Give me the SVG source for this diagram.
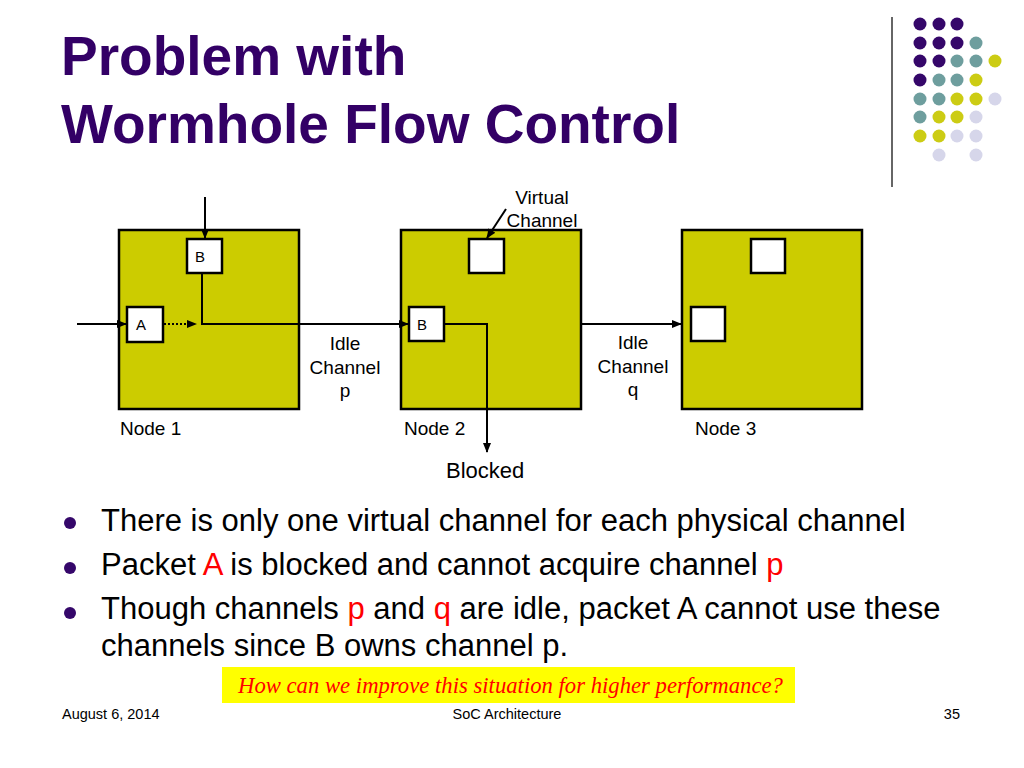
<svg xmlns="http://www.w3.org/2000/svg" width="1024" height="768" viewBox="0 0 1024 768">
<defs>
<style>
.t{font-family:"Liberation Sans",Arial,sans-serif;fill:#000}
.title{font-family:"Liberation Sans",Arial,sans-serif;font-weight:bold;font-size:55px;fill:#330066}
.lbl{font-size:19px}
.box{fill:#cccc00;stroke:#000;stroke-width:2.5}
.vc{fill:#fff;stroke:#000;stroke-width:2.5}
.ln{fill:none;stroke:#000;stroke-width:2}
.bul{font-size:31px}
.red{fill:#ff0000}
.ft{font-size:14.5px}
.p{fill:#35076a}.g{fill:#6e9e9e}.y{fill:#cccc14}.l{fill:#d6d6ea}
</style>
<marker id="ah" viewBox="0 0 10 10" refX="9" refY="5" markerWidth="10" markerHeight="10" markerUnits="userSpaceOnUse" orient="auto">
<path d="M0,1 L10,5 L0,9 z" fill="#000"/>
</marker>
</defs>
<rect width="1024" height="768" fill="#fff"/>

<g id="decor">
<line x1="892" y1="17" x2="892" y2="187" stroke="#333" stroke-width="1.5"/>
<circle class="p" cx="920" cy="24" r="6.5"/><circle class="p" cx="939" cy="24" r="6.5"/><circle class="p" cx="957" cy="24" r="6.5"/>
<circle class="p" cx="920" cy="43" r="6.5"/><circle class="p" cx="939" cy="43" r="6.5"/><circle class="p" cx="957" cy="43" r="6.5"/><circle class="g" cx="976" cy="43" r="6.5"/>
<circle class="p" cx="920" cy="61" r="6.5"/><circle class="p" cx="939" cy="61" r="6.5"/><circle class="g" cx="957" cy="61" r="6.5"/><circle class="g" cx="976" cy="61" r="6.5"/><circle class="y" cx="995" cy="61" r="6.5"/>
<circle class="p" cx="920" cy="80" r="6.5"/><circle class="g" cx="939" cy="80" r="6.5"/><circle class="g" cx="957" cy="80" r="6.5"/><circle class="y" cx="976" cy="80" r="6.5"/>
<circle class="g" cx="920" cy="99" r="6.5"/><circle class="g" cx="939" cy="99" r="6.5"/><circle class="y" cx="957" cy="99" r="6.5"/><circle class="y" cx="976" cy="99" r="6.5"/><circle class="l" cx="995" cy="99" r="6.5"/>
<circle class="g" cx="920" cy="117" r="6.5"/><circle class="y" cx="939" cy="117" r="6.5"/><circle class="y" cx="957" cy="117" r="6.5"/><circle class="l" cx="976" cy="117" r="6.5"/>
<circle class="y" cx="920" cy="136" r="6.5"/><circle class="y" cx="939" cy="136" r="6.5"/><circle class="l" cx="957" cy="136" r="6.5"/><circle class="l" cx="976" cy="136" r="6.5"/>
<circle class="l" cx="939" cy="155" r="6.5"/><circle class="l" cx="976" cy="155" r="6.5"/>
</g>

<g id="title">
<text class="title" x="61" y="75">Problem with</text>
<text class="title" x="61" y="143">Wormhole Flow Control</text>
</g>

<g id="node1">
<rect class="box" x="119" y="230" width="180" height="179"/>
<rect class="vc" x="187" y="239" width="35" height="34"/>
<rect class="vc" x="127" y="307" width="36" height="35"/>
<text class="t" x="195" y="262" font-size="15">B</text>
<text class="t" x="136" y="330" font-size="15">A</text>
<text class="t lbl" x="120" y="435">Node 1</text>
</g>

<g id="node2">
<rect class="box" x="401" y="230" width="180" height="179"/>
<rect class="vc" x="469" y="239" width="35" height="34"/>
<rect class="vc" x="409" y="307" width="35" height="34"/>
<text class="t" x="417" y="330" font-size="15">B</text>
<text class="t lbl" x="404" y="435">Node 2</text>
</g>

<g id="node3">
<rect class="box" x="682" y="230" width="180" height="179"/>
<rect class="vc" x="751" y="239" width="34" height="34"/>
<rect class="vc" x="691" y="307" width="34" height="34"/>
<text class="t lbl" x="695" y="435">Node 3</text>
</g>

<g id="connectors">
<line class="ln" x1="77" y1="324" x2="126" y2="324" marker-end="url(#ah)"/>
<line class="ln" x1="205" y1="197" x2="205" y2="238" marker-end="url(#ah)"/>
<line class="ln" x1="164" y1="324" x2="196" y2="324" stroke-dasharray="2,2" marker-end="url(#ah)"/>
<polyline class="ln" points="202,273 202,324 408,324" marker-end="url(#ah)"/>
<polyline class="ln" points="444,324 487,324 487,452" marker-end="url(#ah)"/>
<line class="ln" x1="581" y1="324" x2="681" y2="324" marker-end="url(#ah)"/>
<line class="ln" x1="506" y1="209" x2="487" y2="238" stroke-width="1.5" marker-end="url(#ah)"/>
</g>

<g id="labels">
<text class="t lbl" text-anchor="middle" x="345" y="350">Idle</text>
<text class="t lbl" text-anchor="middle" x="345" y="374">Channel</text>
<text class="t lbl" text-anchor="middle" x="345" y="397">p</text>
<text class="t lbl" text-anchor="middle" x="633" y="349">Idle</text>
<text class="t lbl" text-anchor="middle" x="633" y="373">Channel</text>
<text class="t lbl" text-anchor="middle" x="633" y="396">q</text>
<text class="t lbl" text-anchor="middle" x="542" y="204">Virtual</text>
<text class="t lbl" text-anchor="middle" x="542" y="227">Channel</text>
<text class="t" x="446" y="478" font-size="22">Blocked</text>
</g>

<g id="bullets">
<circle cx="70" cy="523" r="6" fill="#35076a"/>
<circle cx="70" cy="568" r="6" fill="#35076a"/>
<circle cx="70" cy="613" r="6" fill="#35076a"/>
<text class="t bul" x="101" y="531">There is only one virtual channel for each physical channel</text>
<text class="t bul" x="101" y="575">Packet <tspan class="red">A</tspan> is blocked and cannot acquire channel <tspan class="red">p</tspan></text>
<text class="t bul" x="101" y="619">Though channels <tspan class="red">p</tspan> and <tspan class="red">q</tspan> are idle, packet A cannot use these</text>
<text class="t bul" x="101" y="656">channels since B owns channel p.</text>
</g>

<g id="callout">
<rect x="222" y="667" width="573" height="36" fill="#ffff00"/>
<text x="238" y="693" font-family="'Liberation Serif','Times New Roman',serif" font-style="italic" font-size="22.7" fill="#ff0000">How can we improve this situation for higher performance?</text>
</g>

<g id="footer">
<text class="t ft" x="62" y="719">August 6, 2014</text>
<text class="t ft" x="507" y="719" text-anchor="middle">SoC Architecture</text>
<text class="t ft" x="960" y="719" text-anchor="end">35</text>
</g>
</svg>
